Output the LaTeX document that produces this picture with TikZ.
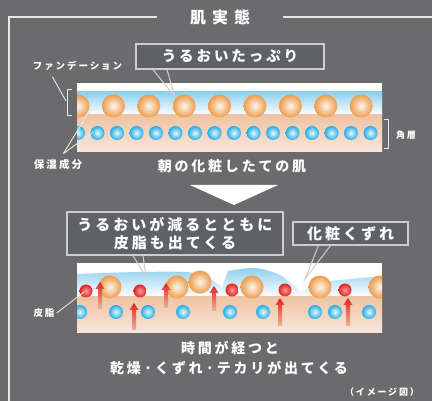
\documentclass[tikz,border=0pt]{standalone}
\usepackage{fontspec}
\newfontfamily\jp[LetterSpace=20]{Noto Sans CJK JP}
\usepackage{tikz}
\usetikzlibrary{positioning,calc}
\definecolor{board}{HTML}{6B6B6D}
\definecolor{rim}{HTML}{E8E8E8}
\definecolor{boxfill}{HTML}{5F6265}
\definecolor{boxline}{HTML}{CDCDCD}
\definecolor{sky}{HTML}{8ECFF0}
\definecolor{skin}{HTML}{EFC3A3}
\definecolor{skinlow}{HTML}{F8E7DC}
\definecolor{powder}{HTML}{EE9B4A}
\definecolor{aqua}{HTML}{23ADE6}
\definecolor{sebum}{HTML}{E42320}
\newcommand{\jpsize}[1]{\jp\bfseries\fontsize{#1}{#1}\selectfont}
\newcommand{\powderball}[2]{\shade[inner color=powder!10!white,outer color=powder] (#1,#2) circle (11.5pt);}
\newcommand{\aquaball}[2]{\shade[inner color=aqua!10!white,outer color=aqua] (#1,#2) circle (7pt);}
\newcommand{\oildrop}[2]{\shade[inner color=sebum!45!white,outer color=sebum] (#1,#2) circle (6.5pt);}
% x, tip, foot
\newcommand{\oilup}[3]{\shade[top color=sebum,bottom color=sebum!10!skin]
  (#1-2,#3) -- (#1-2,#2+7) -- (#1-4.5,#2+7) -- (#1,#2) -- (#1+4.5,#2+7) -- (#1+2,#2+7) -- (#1+2,#3) -- cycle;}

\begin{document}
\begin{tikzpicture}[x=1pt,y=-1pt,
  callout/.style={draw=boxline,line width=1.3pt,fill=boxfill,text=white,inner sep=0pt},
  tail/.style={draw=boxline,line width=1pt},
  leader/.style={draw=rim,line width=0.9pt},
  frame/.style={draw=rim,line width=1.3pt},
  tag/.style={text=white,inner sep=0pt}]
  \useasboundingbox (0,0) rectangle (432,401);
  \fill[board] (0,0) rectangle (432,401);

  \node[tag,fill=board,inner xsep=33pt,font=\jpsize{16}] (title) at (220,17) {肌\hspace{6pt}実\hspace{6pt}態};
  \draw[frame] (title.west) -- (9,17) -- (9,401);
  \draw[frame] (title.east) -- (432,17);

  % morning skin
  \begin{scope}
    \clip (77,83) rectangle (382,152);
    \fill[white] (77,83) rectangle (382,152);
    \shade[top color=sky,bottom color=white] (77,92) rectangle (382,115);
    \shade[top color=skin,bottom color=skinlow] (77,115) rectangle (382,152);
    \foreach \k in {0,...,8}{\powderball{78+35.4*\k}{106}}
    \foreach \k in {0,...,15}{\aquaball{78+19.5*\k}{133}}
  \end{scope}

  \node[tag,font=\jpsize{9.5}] (fd) at (77.5,66) {ファンデーション};
  \coordinate (fdtip) at (66,101);
  \draw[leader] ([xshift=-25pt,yshift=-6pt]fd.south) -- (fdtip);
  \draw[frame,line width=1pt] (72,90) -- (67,90) -- (67,116) -- (72,116);

  \node[tag,font=\jpsize{9}] (horny) at (406,135) {角層};
  \draw[frame,line width=1pt] (384,120) -- (388,120) -- (388,149) -- (384,149);

  \node[tag,font=\jpsize{10.5}] (moistlabel) at (58,165) {保湿成分};
  \coordinate (inpowder) at (95,102);
  \coordinate (inskin) at (93,132);
  \draw[leader] ([xshift=-19pt,yshift=6pt]moistlabel.north east) -- (inpowder);
  \draw[leader] ([xshift=-19pt,yshift=6pt]moistlabel.north east) -- (inskin);

  \node[callout,minimum width=188pt,minimum height=25pt,font=\jpsize{14.5}] (moist) at (230,56.5) {うるおいたっぷり};
  \coordinate (moisttip) at (175,97);
  \draw[tail] ([xshift=-77pt]moist.south) -- (moisttip) -- ([xshift=-63pt]moist.south);

  \node[tag,font=\jpsize{14}] (morning) at (232,166) {朝の化粧したての肌};
  \fill[white] (190,185) -- (278,185) -- (234,205) -- cycle;

  % skin some hours later
  \begin{scope}
    \clip (77,263) rectangle (382,333);
    \fill[white] (77,263) rectangle (382,333);
    \shade[top color=sky,bottom color=white] (77,274)
      -- plot[smooth] coordinates {(77,274) (140,272) (195,273) (222,287)}
      -- plot[smooth] coordinates {(228,271) (255,268) (280,275) (301,292)}
      -- plot[smooth] coordinates {(301,292) (318,283) (350,279) (382,276)}
      -- (382,297) -- (77,297) -- cycle;
    \shade[top color=skin,bottom color=skinlow] (77,297) rectangle (382,333);
    \foreach \x/\y in {110/287,177/287,200/282,252/287,320/287,380/287}{\powderball{\x}{\y}}
    \foreach \x/\y in {86/291,140/291,232/290,285/290,345/290}{\oildrop{\x}{\y}}
    \foreach \x in {80,116,148,183,230,263,315,335,369}{\aquaball{\x}{312}}
    \foreach \x/\t/\f in {100/282/309,134/303/330,166/283/308,214/286/311,280/298/326,348/298/326}{\oilup{\x}{\t}{\f}}
  \end{scope}

  \node[tag,font=\jpsize{9.5}] (oil) at (44,313) {皮脂};
  \coordinate (oildot) at (84,292);
  \draw[leader] ([xshift=2pt]oil.east) -- (oildot);

  \node[callout,minimum width=216pt,minimum height=43pt,align=center,font=\jpsize{15}] (thin) at (175,233.5) {うるおいが減るとともに\\[3pt]皮脂も出てくる};
  \coordinate (thintip) at (146,277);
  \draw[tail] ([xshift=-42pt]thin.south) -- (thintip) -- ([xshift=-32pt]thin.south);

  \node[callout,minimum width=115pt,minimum height=23pt,font=\jpsize{15}] (slip) at (350.5,233.5) {化粧くずれ};
  \coordinate (sliptip) at (305,279);
  \draw[tail] ([xshift=-32pt]slip.south) -- (sliptip) -- ([xshift=-20pt]slip.south);

  \node[tag,font=\jpsize{14}] (later) at (230,348) {時間が経つと};
  \node[tag,font=\jpsize{14}] (result) at (229,368) {乾燥·くずれ·テカリが出てくる};
  \node[tag,font=\jpsize{9}] (note) at (382,392) {（イメージ図）};
\end{tikzpicture}
\end{document}
